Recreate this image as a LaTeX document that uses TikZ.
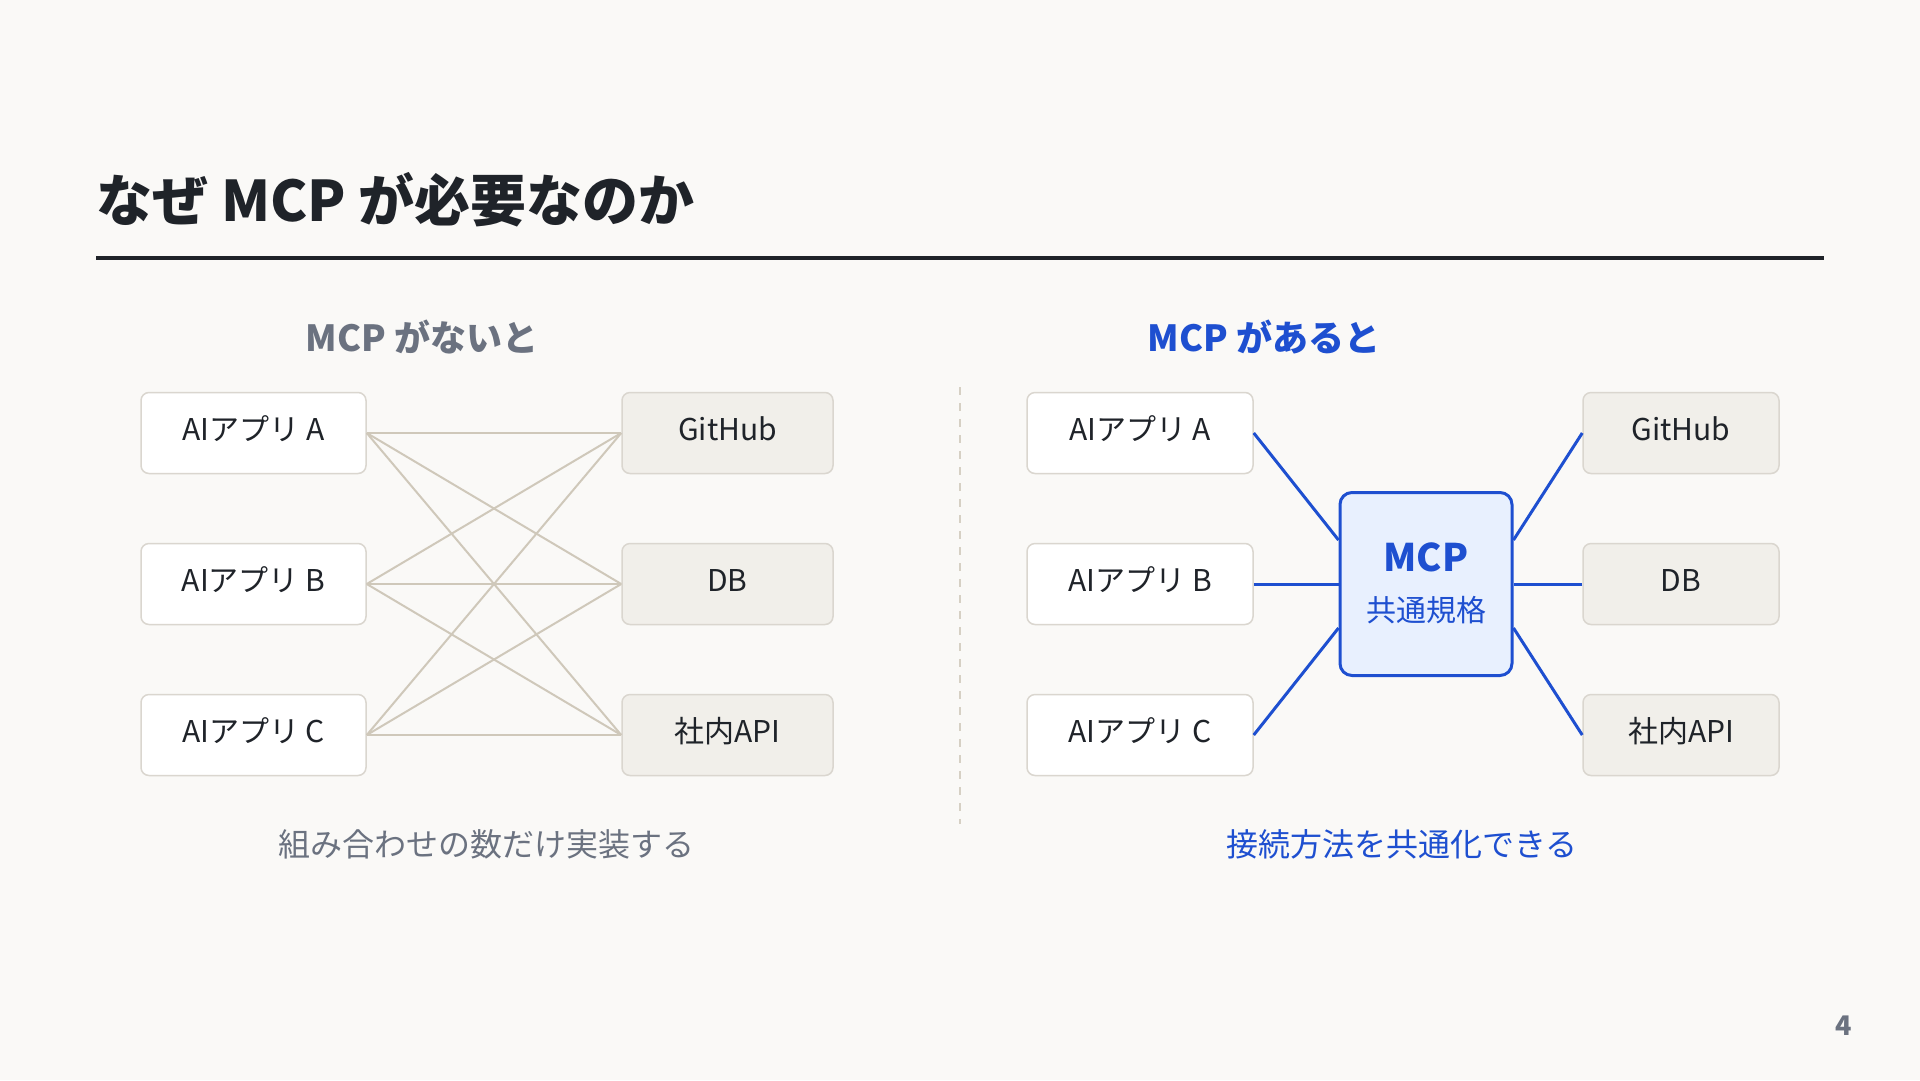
\documentclass[tikz,border=0pt]{standalone}
\usepackage{fontspec}
\setmainfont{Noto Sans CJK JP}
\definecolor{bg}{HTML}{FAF9F7}
\definecolor{ink}{HTML}{1F2329}
\definecolor{muted}{HTML}{6B7280}
\definecolor{mcpblue}{HTML}{1E4FD0}
\definecolor{edge}{HTML}{DAD6CF}
\definecolor{svcfill}{HTML}{F1EFEA}
\definecolor{hubfill}{HTML}{E8F0FE}
\definecolor{wire}{HTML}{CFC8BA}
\tikzset{
  appbox/.style={draw=edge,line width=1.5pt,fill=white,rounded corners=8pt,minimum height=81pt,inner sep=0pt,text height=22pt,text depth=6.6pt,text=ink,font=\fontsize{30}{36}\selectfont},
  svcbox/.style={appbox,fill=svcfill},
  hub/.style={draw=mcpblue,line width=3pt,fill=hubfill,rounded corners=12pt,minimum width=172pt,minimum height=183pt,inner sep=0pt},
  link/.style={draw=wire,line width=2pt},
  mcplink/.style={draw=mcpblue,line width=3pt}
}
\begin{document}
\begin{tikzpicture}[x=1pt,y=-1pt]
        \fill[bg](0,0)rectangle(1920,1080);
        \node[anchor=west,inner sep=0pt,text=ink,font=\fontsize{56}{64}\selectfont\bfseries](title)at(96,200){なぜ MCP が必要なのか};
        \draw[ink,line width=4pt](96,258)--(1824,258);

        \node[text=muted,font=\fontsize{36}{42}\selectfont\bfseries](left)at(422,337){MCP がないと};
        \node[text=mcpblue,font=\fontsize{36}{42}\selectfont\bfseries](right)at(1264,337){MCP があると};

        \foreach \n/\t/\y in {a/A/433,b/B/584,c/C/735} {
            \node[appbox,minimum width=225pt](l\n)at(253.5,\y){AIアプリ \t};
            \node[appbox,minimum width=226pt](r\n)at(1140,\y){AIアプリ \t};
        }
        \foreach \n/\t/\y in {g/GitHub/433,d/DB/584,s/社内API/735} {
            \node[svcbox,minimum width=211pt](l\n)at(727.5,\y){\t};
            \node[svcbox,minimum width=196pt](r\n)at(1681,\y){\t};
        }
        \foreach \i in {a,b,c} \foreach \j in {g,d,s} \draw[link](l\i.east)--(l\j.west);

        \draw[wire!85,line width=2pt,dash pattern=on 8pt off 8pt](960,387)--(960,824);

        \node[hub](mcp)at(1426,584){};
        \node[text=mcpblue,font=\fontsize{38}{44}\selectfont\bfseries](mcpname)at(1426,557){MCP};
        \node[text=mcpblue,font=\fontsize{30}{36}\selectfont](mcpsub)at(1426,610){共通規格};

        \draw[mcplink](ra.east)--([yshift=44pt]mcp.west);
        \draw[mcplink](rb.east)--(mcp.west);
        \draw[mcplink](rc.east)--([yshift=-44pt]mcp.west);
        \draw[mcplink](rg.west)--([yshift=44pt]mcp.east);
        \draw[mcplink](rd.west)--(mcp.east);
        \draw[mcplink](rs.west)--([yshift=-44pt]mcp.east);

        \node[text=muted,font=\fontsize{32}{38}\selectfont](leftnote)at(486,844){組み合わせの数だけ実装する};
        \node[text=mcpblue,font=\fontsize{32}{38}\selectfont](rightnote)at(1402,844){接続方法を共通化できる};

        \node[text=muted,font=\fontsize{27}{32}\selectfont\bfseries](page)at(1844,1026){4};
\end{tikzpicture}
\end{document}
